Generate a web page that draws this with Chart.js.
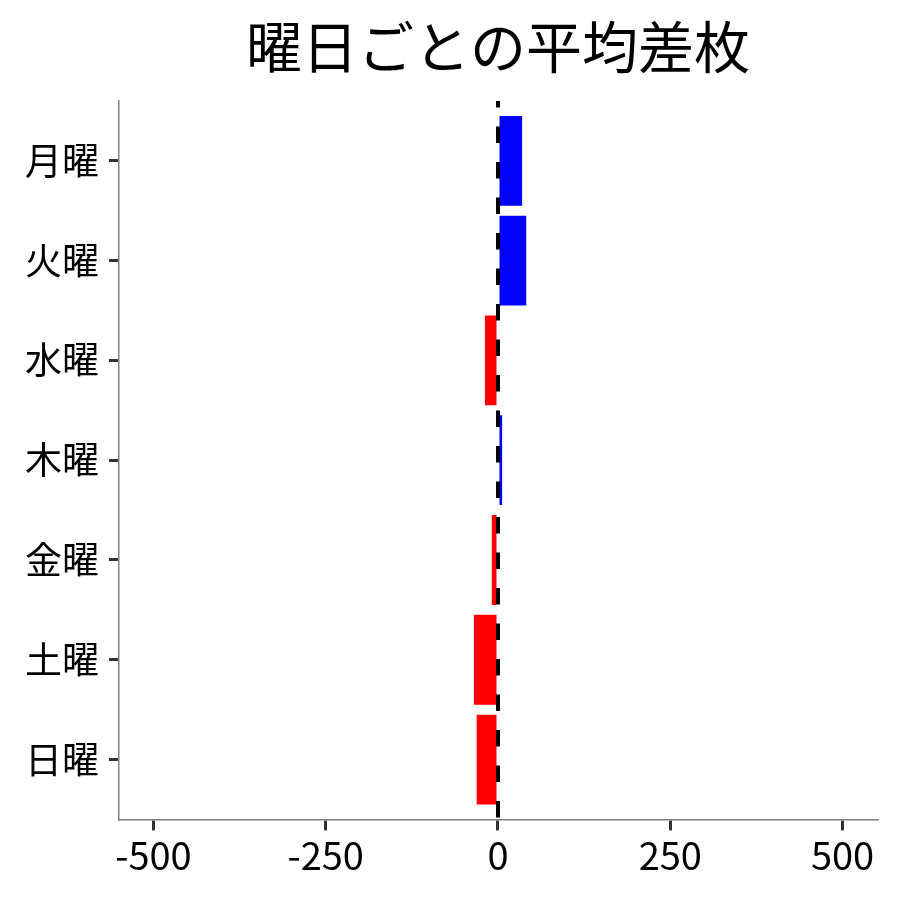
<!DOCTYPE html>
<html lang="ja">
<head>
<meta charset="utf-8">
<title>曜日ごとの平均差枚</title>
<script src="https://cdn.jsdelivr.net/npm/chart.js@4"></script>
<style>
    html, body { margin: 0; padding: 0; background: #fff; }
    #wrap { width: 900px; height: 900px; }
</style>
</head>
<body>
<div id="wrap"><canvas id="diffChart" width="900" height="900"></canvas></div>
<script>
// data
const chartTitle = '曜日ごとの平均差枚';
const days = ['月曜', '火曜', '水曜', '木曜', '金曜', '土曜', '日曜'];
const avgDiff = [35, 41, -19, 6, -9, -35, -31];
const xTickValues = [-500, -250, 0, 250, 500];

const FONT = "'Noto Sans CJK JP', 'Noto Sans', sans-serif";

// dashed line at zero + title centred over the panel
const zeroLine = {
    id: 'zeroLine',
    afterDatasetsDraw(chart) {
        const { ctx, chartArea, scales } = chart;
        const x = scales.x.getPixelForValue(0);
        ctx.save();
        ctx.beginPath();
        ctx.rect(chartArea.left, chartArea.top, chartArea.right - chartArea.left, chartArea.bottom - chartArea.top);
        ctx.clip();
        ctx.strokeStyle = '#000';
        ctx.lineWidth = 4;
        ctx.setLineDash([16.5, 19]);
        ctx.lineDashOffset = 10;
        ctx.beginPath();
        ctx.moveTo(x, chartArea.top);
        ctx.lineTo(x, chartArea.bottom);
        ctx.stroke();
        ctx.restore();
    },
    afterDraw(chart) {
        const { ctx, chartArea } = chart;
        ctx.save();
        ctx.fillStyle = '#000';
        ctx.font = `56px ${FONT}`;
        ctx.textAlign = 'center';
        ctx.textBaseline = 'middle';
        ctx.fillText(chartTitle, (chartArea.left + chartArea.right) / 2, 47);
        ctx.restore();
    }
};

new Chart(document.getElementById('diffChart'), {
    type: 'bar',
    data: {
        datasets: [{
            data: avgDiff.map((v, i) => ({ x: v, y: i })),
            backgroundColor: avgDiff.map(v => v >= 0 ? '#0000ff' : '#ff0000'),
            borderWidth: 0,
            categoryPercentage: 0.9,
            barPercentage: 1
        }]
    },
    options: {
        indexAxis: 'y',
        responsive: false,
        animation: false,
        layout: { padding: { top: 101, left: 15, right: 23, bottom: 20 } },
        plugins: {
            legend: { display: false },
            title: { display: false },
            tooltip: { enabled: false }
        },
        scales: {
            x: {
                type: 'linear',
                min: -550,
                max: 550,
                afterBuildTicks: (scale) => { scale.ticks = xTickValues.map(v => ({ value: v })); },
                grid: { drawOnChartArea: false, drawTicks: true, tickLength: 11, color: '#333', lineWidth: 3 },
                border: { display: true, color: '#808080', width: 1.5 },
                ticks: { color: '#000', font: { family: FONT, size: 38 }, padding: 2, maxRotation: 0 }
            },
            y: {
                type: 'linear',
                reverse: true,
                offset: false,
                min: -0.6,
                max: 6.6,
                afterBuildTicks: (scale) => { scale.ticks = days.map((d, i) => ({ value: i })); },
                grid: { offset: false, drawOnChartArea: false, drawTicks: true, tickLength: 10, color: '#333', lineWidth: 3 },
                border: { display: true, color: '#808080', width: 1.5 },
                ticks: {
                    color: '#000',
                    font: { family: FONT, size: 37 },
                    padding: 10,
                    autoSkip: false,
                    callback: (v) => days[v] ?? ''
                }
            }
        }
    },
    plugins: [zeroLine]
});
</script>
</body>
</html>
